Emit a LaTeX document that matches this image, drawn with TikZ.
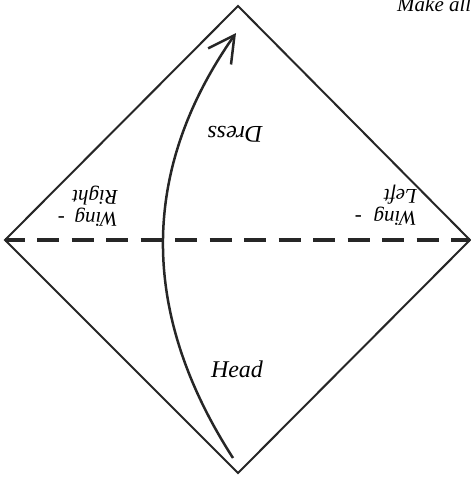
\documentclass[tikz,border=0pt]{standalone}
\usepackage{fontspec}
\setmainfont{Liberation Serif}
\usetikzlibrary{arrows.meta}
\begin{document}
\begin{tikzpicture}[x=1pt,y=-1pt,
  fold/.style={line width=2pt, line join=miter, draw=black!85},
  crease/.style={line width=3.8pt, dash pattern=on 22pt off 12.5pt, dash phase=2.5pt, draw=black!85},
  flow/.style={line width=2.5pt, draw=black!85, -{Straight Barb[length=26pt,width=28pt]}},
  lbl/.style={font=\fontsize{24}{28}\selectfont\itshape, inner sep=0pt},
  wlbl/.style={font=\fontsize{21}{22}\selectfont\itshape, inner sep=0pt, align=left, rotate=180, anchor=north west},
]
\useasboundingbox (0,0) rectangle (471,477);
\coordinate (top) at (238,6);
\coordinate (right) at (470,240);
\coordinate (bottom) at (238,473);
\coordinate (left) at (5,240);
\coordinate (start) at (233,458);
\coordinate (tip) at (236,33);
\draw[fold] (top) -- (right) -- (bottom) -- (left) -- cycle;
\draw[crease] (left) -- (right);
\draw[flow] (start) .. controls (137,309) and (142,167) .. (tip);
\node[lbl, rotate=180] (dress) at (235,134) {Dress};
\node[lbl, anchor=base] (head) at (237,377) {Head};
\node[wlbl] (wingr) at (118,227) {\makebox[60pt][s]{Wing -}\\Right};
\node[wlbl] (wingl) at (417,226) {\makebox[62pt][s]{Wing -}\\Left};
\node[font=\fontsize{21}{24}\selectfont\itshape, anchor=base west, inner sep=0pt] (note) at (397,11) {Make all};
\end{tikzpicture}
\end{document}
